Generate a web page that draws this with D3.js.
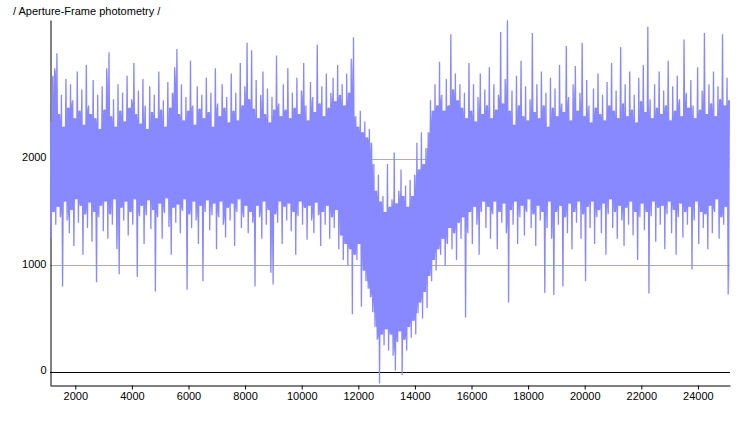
<!DOCTYPE html>
<html><head><meta charset="utf-8">
<script src="https://cdn.jsdelivr.net/npm/d3@7"></script>
<style>body{margin:0;background:#fff}svg{display:block}</style>
</head><body><svg id="c" width="740" height="425"></svg>
<script>
const chartTitle = "/ Aperture-Frame photometry /";
const frameStart = 1110, frameStep = 40;
// pre-eclipse flux (alternating local highs / lows)
const fluxPre = [
2350,1250,2780,1500,2850,1380,2990,1550,2420,1450,2600,800,2300,1600,2750,1420,2480,1300,2700,1520,
2550,1180,2380,1620,2820,1400,2450,1560,2650,1100,2320,1480,2880,1350,2500,1590,2420,1220,2740,1500,
2380,840,2600,1450,2280,1560,2680,1320,2460,1600,2850,1250,3000,1480,2400,1380,2560,1620,2300,1150,
2700,915,2450,1540,2620,1420,2350,1600,2780,1280,2480,1500,2560,1380,2900,1620,2420,890,2640,1460,
2330,1560,2750,1200,2500,1470,2280,1610,2680,1340,2440,1520,2600,755,2380,1450,2820,1580,2460,1250,
2550,1490,2300,1630,2720,1360,2480,1100,2620,1540,2860,1400,3030,1570,2420,1300,2700,1510,2360,1620,
2580,770,2450,1480,2920,1350,2500,1600,2320,1420,2680,1200,2470,1560,2600,850,2380,1500,2760,1610,
2440,1330,2620,1470,2300,1580,2850,1150,2520,1450,2400,1600,2700,1380,2480,1260,2580,1540,2340,1420,
2800,1580,2450,1180,2620,1500,2360,1620,2900,1350,2500,1450,2680,1560,3090,1300,2560,1500,3020,1400,
2470,800,2740,1560,2380,1450,2600,1250,2820,1600,2420,1380,2660,1520,2340,930,2580,820,2460,1480,
2970,1400,2520,1600,2400,1200,2700,1550,2460,1420,2850,1580,2380,1320,2620,1500,2480,1100,2760,1460,
2420,1600,2640,1380,2900,1540,2500,1240,2360,1560,2720,1420,2580,1300,2440,1590,3070,1470,2520,1180,
2680,1500,2400,1380,2800,1560,2480,1250,2620,1450,2760,1350,2540,1520,2880,1150,2600,1280,2700,1050,
2500,1200,2800,1000,2620,1150,2940,540,3140,1100
];
// eclipse dip
const fluxDip = [
2400,1050,2300,1200,2450,610,2250,950,2350,850,
2200,780,2280,700,2150,560,1950,420,1700,300,
1850,-110,1600,350,1650,250,1500,400,1950,200,
1550,350,1620,150,2060,10,1580,280,1700,380,
1900,-30,1650,300,1750,200,1550,420,1800,320,
1650,480,1850,350,2150,550,1900,650,2250,500,
1950,750,2100,600,2250,900,2550,850,2450,1050,
2700,950,2500,1150,2910
];
// post-eclipse flux
const fluxPost = [
1100,2600,1250,2450,1000,2750,1200,2500,1350,3170,1150,2650,1300,2800,1050,2550,1400,2700,1250,2480,
1450,2620,510,2380,1300,2900,1500,2450,1200,2700,1550,2350,1380,2580,1100,2800,1500,2420,1600,2650,
1350,2500,1550,2860,1250,2380,1480,2700,1600,2460,1150,2600,1500,3190,1400,2520,1580,2750,1300,3300,
650,2450,1520,2640,1380,2320,1600,2780,1200,2500,1450,2920,1560,2400,1280,2680,1500,2360,1620,2560,
1350,3180,1480,2440,1180,2700,1560,2380,1420,2820,1500,2500,740,2620,1350,2300,1600,2760,1250,2480,
720,2660,1500,2400,1380,2880,1560,2520,800,2440,1450,3060,1300,2580,1580,2360,1150,2700,1500,2870,
1400,2450,1600,2620,1250,3090,1480,2400,850,2740,1550,2500,1350,2340,1600,2660,1200,2480,1450,2800,
1520,2420,1300,2600,1580,2360,1100,2720,1480,2500,1620,2900,1350,2450,1500,2640,1250,2380,1560,3050,
1420,2520,1180,2700,1540,2400,1380,2820,1600,2460,1280,2600,1500,2340,1050,2760,1450,2540,1580,2880,
1330,2440,1500,3240,735,2560,1460,2380,1600,2700,1220,2480,1540,2820,1380,2420,1560,2640,1150,2500,
1480,2920,1600,2360,1300,2680,1520,2450,1100,2780,1450,2560,1580,2400,1260,3120,1500,2620,1380,2480,
1550,2740,960,2500,1420,2380,1600,2860,1200,2460,1500,2640,1350,3180,1480,2420,1150,2700,1560,2520,
1300,2820,1500,2400,1620,2680,1250,2560,1450,3170,1380,2500,1550,2760,725,2550
];
const xTicks = [2000,4000,6000,8000,10000,12000,14000,16000,18000,20000,22000,24000];
const yTicks = [0,1000,2000];
const gridValues = [1000,2000];
const xDomain = [1106, 25134];
const yDomain = [-124, 3303];

const flux = fluxPre.concat(fluxDip, fluxPost);
const data = flux.map((v,i)=>({frame: frameStart + i*frameStep, flux: v}));

// solid core of the noisy band: top = lowest nearby high (even index), bottom = highest nearby low (odd index)
const coreBand = data.map((d, i) => {
  const idx = d3.range(Math.max(0, i - 2), Math.min(flux.length, i + 3));
  const highs = idx.filter(k => k % 2 === 0).map(k => flux[k]);
  const lows = idx.filter(k => k % 2 === 1).map(k => flux[k]);
  return {frame: d.frame, top: d3.min(highs), bot: d3.max(lows)};
});

const svg = d3.select("#c");
const L = 50, R = 730, T = 20, B = 385;
const x = d3.scaleLinear().domain(xDomain).range([L, R]);
const y = d3.scaleLinear().domain(yDomain).range([B, T]);

svg.append("text").attr("x", 13).attr("y", 15)
  .attr("font-family", "Liberation Sans, Arial, sans-serif").attr("font-size", 11)
  .attr("fill", "#000").text(chartTitle);

// cyan reference lines
svg.append("g").selectAll("line").data(gridValues).join("line")
  .attr("x1", L).attr("x2", R)
  .attr("y1", d => Math.round(y(d)) + 0.5).attr("y2", d => Math.round(y(d)) + 0.5)
  .attr("stroke", "#30e4e8").attr("stroke-width", 1).attr("shape-rendering", "crispEdges");

// zero line
svg.append("line").attr("x1", L).attr("x2", R)
  .attr("y1", Math.round(y(0)) + 0.5).attr("y2", Math.round(y(0)) + 0.5)
  .attr("stroke", "#000").attr("shape-rendering", "crispEdges");

// bottom axis
const xAxis = d3.axisBottom(x).tickValues(xTicks).tickSize(4).tickSizeOuter(0).tickFormat(d3.format("d"));
const gx = svg.append("g").attr("transform", `translate(0,${B + 0.5})`).call(xAxis);
gx.select(".domain").attr("stroke", "#000");
gx.selectAll(".tick line").attr("stroke", "#000");
gx.selectAll(".tick text").attr("font-family", "Liberation Sans, Arial, sans-serif")
  .attr("font-size", 11).attr("fill", "#000").attr("y", 7).attr("dy", "0.71em");

// left axis (line + labels, no ticks)
const yAxis = d3.axisLeft(y).tickValues(yTicks).tickSize(0).tickSizeOuter(0).tickPadding(4).tickFormat(d3.format("d"));
const gy = svg.append("g").attr("transform", `translate(${L + 0.5},0)`).call(yAxis);
gy.select(".domain").attr("stroke", "#000");
gy.selectAll(".tick text").attr("font-family", "Liberation Sans, Arial, sans-serif")
  .attr("font-size", 11).attr("fill", "#000").attr("dy", "0.2em");

// data
svg.append("clipPath").attr("id", "clip").append("rect")
  .attr("x", L).attr("y", T).attr("width", R - L + 1).attr("height", B - T);
const plot = svg.append("g").attr("clip-path", "url(#clip)");
const area = d3.area().x(d => x(d.frame)).y0(d => y(d.bot)).y1(d => y(d.top));
plot.append("path").datum(coreBand).attr("d", area).attr("fill", "#8888ff");
const line = d3.line().x(d => x(d.frame)).y(d => y(d.flux));
plot.append("path").datum(data)
  .attr("d", line).attr("fill", "none").attr("stroke", "#8888ff")
  .attr("stroke-width", 1.3).attr("stroke-linejoin", "miter").attr("stroke-miterlimit", 1);
</script></body></html>
